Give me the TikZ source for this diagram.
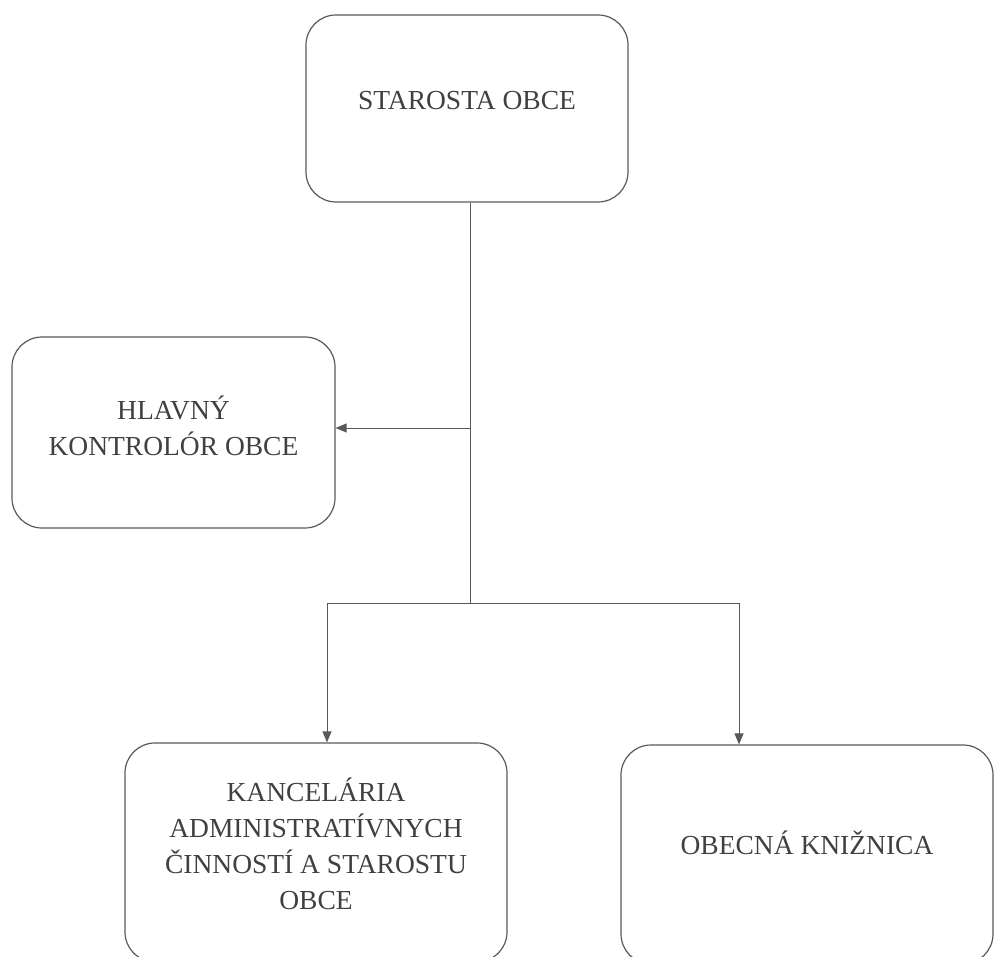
\documentclass[tikz,border=0pt]{standalone}
\usepackage{fontspec}
\setmainfont{Liberation Serif}
\usetikzlibrary{arrows.meta}
\begin{document}
\begin{tikzpicture}[x=1pt,y=-1pt,
  box/.style={draw=black!65, line width=1.2pt, rounded corners=30pt, inner sep=0pt},
  lbl/.style={align=center, inner sep=0pt, text=black!75, font=\fontsize{27.5}{36}\selectfont},
  conn/.style={draw=black!65, line width=1pt},
  arr/.style={conn, -{Triangle[length=11pt,width=9pt]}}]
\useasboundingbox (0,0) rectangle (995,957);
\clip (0,0) rectangle (995,957);
\node[box, minimum width=322pt, minimum height=187pt,
  label={[lbl, name=topt, yshift=8pt]center:STAROSTA OBCE}] (top) at (467,108.5) {};
\node[box, minimum width=323pt, minimum height=191pt,
  label={[lbl, name=kontrt, yshift=7pt]center:HLAVNÝ\\KONTROLÓR OBCE}] (kontr) at (173.5,432.5) {};
\node[box, minimum width=382pt, minimum height=219pt,
  label={[lbl, name=kanct, yshift=9pt]center:KANCELÁRIA\\ADMINISTRATÍVNYCH\\ČINNOSTÍ A STAROSTU\\OBCE}] (kanc) at (316,852.5) {};
\node[box, minimum width=372pt, minimum height=219pt,
  label={[lbl, name=knizt, yshift=12pt]center:OBECNÁ KNIŽNICA}] (kniz) at (807,854.5) {};
\coordinate (j1) at (470,428);
\coordinate (j2) at (470,603);
\coordinate (jl) at (327,603);
\coordinate (jr) at (739,603);
\draw[conn] (top.south -| j1) -- (j2);
\draw[arr] (j1) -- (kontr.east |- j1);
\draw[conn] (jl) -- (jr);
\draw[arr] (jl) -- (jl |- kanc.north);
\draw[arr] (jr) -- (jr |- kniz.north);
\end{tikzpicture}
\end{document}
